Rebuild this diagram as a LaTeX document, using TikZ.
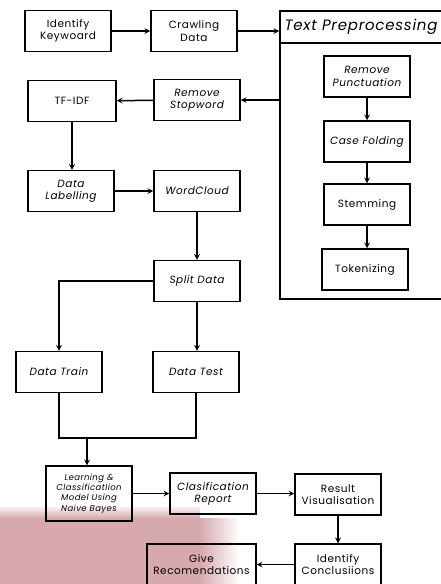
\documentclass[tikz,border=0pt]{standalone}
\usepackage{fontspec}
\setmainfont{Poppins}[LetterSpace=5]
\usetikzlibrary{arrows, positioning}
\definecolor{wmpink}{RGB}{215,169,175}

\begin{document}
\begin{tikzpicture} [
        x = 1pt, y = -1pt,
        step box/.style = {draw, line width=1.5pt, minimum width=86pt, minimum height=41pt,
                           align=center, inner sep=1pt, font=\fontsize{10.5}{12.3}\selectfont},
        it box/.style = {step box, font=\fontsize{10.5}{12.3}\selectfont\itshape},
        edge/.style = {draw, line width=1.5pt, -stealth, shorten >= 0pt},
        line/.style = {draw, line width=1.5pt}
    ]

    \useasboundingbox (0,0) rectangle (441,584);
    \clip (0,0) rectangle (441,584);

    % watermark in the lower left corner
    \shade[top color=white, bottom color=wmpink] (0,505) rectangle (200,518);
    \fill[wmpink] (0,518) rectangle (200,584);
    \shade[left color=wmpink, right color=white] (200,518) rectangle (240,584);

    % first row
    \node[step box] (keyword) at (68,31)  {Identify\\Keywoard};
    \node[step box] (crawl)   at (194,31) {Crawling\\Data};

    % text preprocessing block
    \node[draw, line width=1.5pt, minimum width=170pt, minimum height=288pt] (prep) at (365,155) {};
    \draw[line] (280,43) -- (450,43);
    \node[font=\fontsize{15}{17}\selectfont\itshape] (preptitle) at (361,27) {Text Preprocessing};
    \node[it box]   (punct) at (367,76.5)  {Remove\\Punctuation};
    \node[it box]   (fold)  at (367,141.5) {Case Folding};
    \node[step box] (stem)  at (367,204.5) {Stemming};
    \node[step box] (token) at (365,269.5) {Tokenizing};

    % left column
    \node[it box]   (stop)  at (197,100) {Remove\\Stopword};
    \node[step box, minimum width=88pt] (tfidf) at (72,101) {TF-IDF};
    \node[it box]   (label) at (71,191)  {Data\\Labelling};
    \node[it box]   (cloud) at (197,191) {WordCloud};
    \node[it box]   (split) at (197,281)   {Split Data};
    \node[it box]   (train) at (59,372)      {Data Train};
    \node[it box]   (test)  at (196,372)     {Data Test};

    % bottom rows
    \node[it box, minimum height=55pt, font=\fontsize{8.5}{10.3}\selectfont\itshape] (learn) at (89,493.5)
        {Learning \&\\Classificatlion\\Model Using\\Naive Bayes};
    \node[it box]   (report) at (213,493.5)  {Clasification\\Report};
    \node[step box] (result) at (338,494.5) {Result\\Visualisation};
    \node[step box] (concl)  at (338,564.5) {Identify\\Conclusiions};
    \node[step box, minimum width=109pt] (give) at (201.5,564.5) {Give\\Recomendations};

    \path[edge] (keyword) -- (crawl);
    \path[edge] (crawl.east) -- (crawl.east -| prep.west);
    \path[edge] (prep.west |- stop.east) -- (stop.east);
    \path[edge] (stop) -- (tfidf);
    \path[edge] (punct) -- (fold);
    \path[edge] (fold) -- (stem);
    \path[edge] (stem) -- (stem.south |- token.north);
    \path[edge] (tfidf.south) -- (tfidf.south |- label.north);
    \path[edge] (label) -- (cloud);
    \path[edge] (cloud) -- (split);
    \path[edge] (split.west) -| (train.north);
    \path[edge] (split.south) -- (split.south |- test.north);
    \coordinate (join) at (87,438);
    \path[line] (train.south) |- (join) -| (test.south);
    \path[edge] (join) -- (join |- learn.north);
    \path[edge] (learn) -- (report);
    \path[edge] (report.east) -- (report.east -| result.west);
    \path[edge] (result) -- (concl);
    \path[edge] (concl) -- (give);

\end{tikzpicture}
\end{document}
